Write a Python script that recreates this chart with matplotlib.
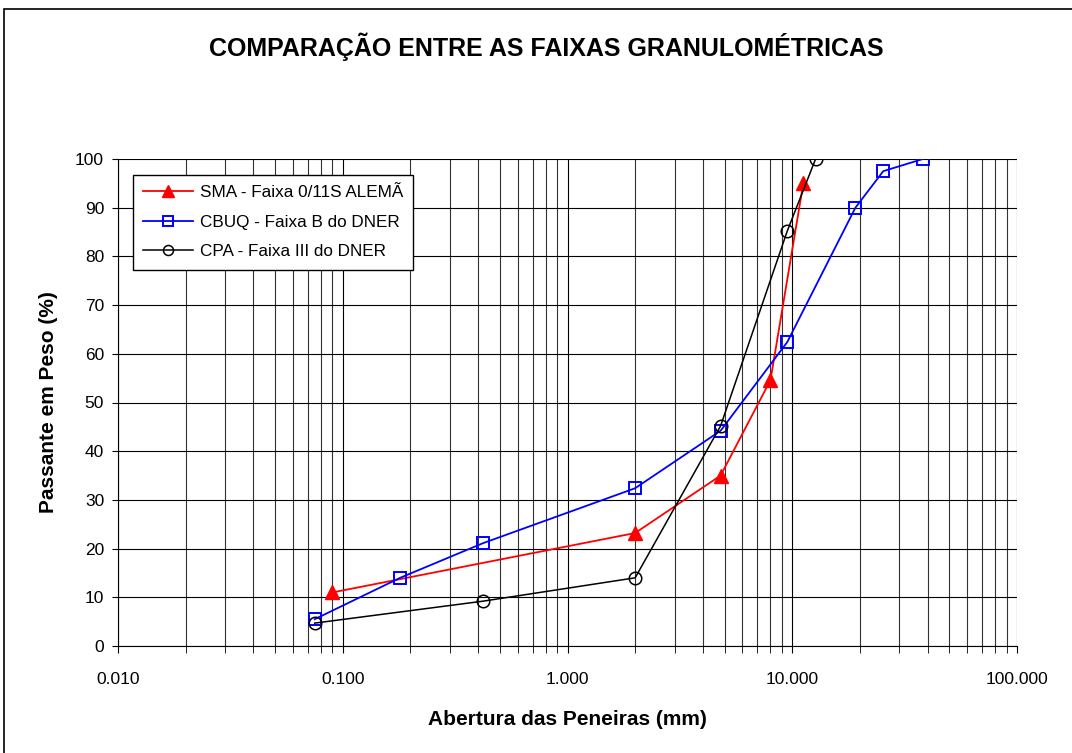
#Grading curves comparison - log x axis, Excel style
import matplotlib.pyplot as plt
import matplotlib.ticker as mticker
from matplotlib.patches import Rectangle

plt.rcParams['font.family'] = ['Liberation Sans', 'DejaVu Sans']

#sieve openings (mm) and percent passing for each band
sma_x = [0.09, 2.0, 4.8, 8.0, 11.2]
sma_y = [11, 23.2, 35, 54.6, 95]

cbuq_x = [0.075, 0.18, 0.42, 2.0, 4.8, 9.5, 19.1, 25.4, 38.1]
cbuq_y = [5.5, 14, 21.1, 32.4, 44.2, 62.4, 90, 97.5, 100]

cpa_x = [0.075, 0.42, 2.0, 4.8, 9.5, 12.7]
cpa_y = [4.7, 9.2, 14, 45.2, 85.2, 100]

x_ticks = [0.01, 0.1, 1, 10, 100]
x_tick_labels = ['0.010', '0.100', '1.000', '10.000', '100.000']

fig = plt.figure(figsize=(10.72, 7.53), dpi=100)
ax = fig.add_axes([118/1072, 107/753, (1017-118)/1072, (646-159)/753])

#figure frame like the spreadsheet chart area
fig.patches.append(Rectangle((4/1072, -0.01), 1.0, (753-9)/753 + 0.01,
                             transform=fig.transFigure, fill=False,
                             edgecolor='black', linewidth=1.2))

ax.plot(sma_x, sma_y, color='red', marker='^', markersize=10, linewidth=1.3,
        label='SMA - Faixa 0/11S ALEMÃ')
ax.plot(cbuq_x, cbuq_y, color='blue', marker='s', markersize=9, markerfacecolor='none',
        markeredgewidth=1.4, linewidth=1.3, label='CBUQ - Faixa B do DNER')
ax.plot(cpa_x, cpa_y, color='black', marker='o', markersize=9, markerfacecolor='none',
        markeredgewidth=1.1, linewidth=1.1, label='CPA - Faixa III do DNER')

ax.set_xscale('log')
ax.set_xlim(0.01, 100)
ax.set_ylim(0, 100)
ax.set_xticks(x_ticks)
ax.set_xticklabels(x_tick_labels)
ax.xaxis.set_minor_locator(mticker.LogLocator(base=10, subs=range(2, 10)))
ax.xaxis.set_minor_formatter(mticker.NullFormatter())
ax.set_yticks(range(0, 101, 10))
ax.tick_params(axis='both', labelsize=12.5, direction='out', length=4)
ax.tick_params(axis='x', which='both', length=5)
ax.tick_params(axis='x', pad=14)
ax.tick_params(axis='y', pad=6)

ax.grid(True, which='major', color='black', linewidth=0.8)
ax.grid(True, which='minor', axis='x', color='#333333', linewidth=0.8)
ax.set_axisbelow(True)
for s in ['top', 'right']:
    ax.spines[s].set_visible(False)

ax.set_xlabel('Abertura das Peneiras (mm)', fontsize=15, fontweight='bold', labelpad=16)
ax.set_ylabel('Passante em Peso (%)', fontsize=15, fontweight='bold', labelpad=12)
fig.text(546/1072, 1 - 47/753, 'COMPARAÇÃO ENTRE AS FAIXAS GRANULOMÉTRICAS',
         ha='center', va='center', fontsize=18, fontweight='bold')

leg = ax.legend(loc='upper left', bbox_to_anchor=(15/899, 1 - 16/487), fontsize=12.3,
                fancybox=False, framealpha=1, edgecolor='black', borderaxespad=0,
                handlelength=2.9, labelspacing=0.85, handletextpad=0.4,
                borderpad=0.6, markerscale=0.8)
leg.get_frame().set_linewidth(1.0)

fig.savefig('out.png', dpi=100)
